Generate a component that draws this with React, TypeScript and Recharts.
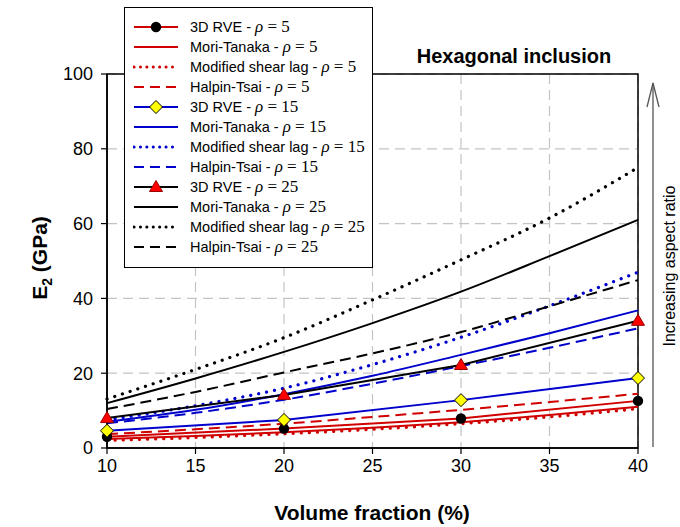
import React from "react";
import { LineChart, Line, XAxis, YAxis, CartesianGrid, ReferenceArea, Legend } from "recharts";

// volume fraction (%) where the analytical curves were sampled
const volumeFraction = [10, 15, 20, 25, 30, 35, 40];
// volume fraction (%) of the 3D RVE simulations
const rveFraction = [10, 20, 30, 40];

const xTicks = [10, 15, 20, 25, 30, 35, 40];
const yTicks = [0, 20, 40, 60, 80, 100];

// E2 (GPa), aspect ratio 5
const rve5 = [3.0, 5.2, 7.9, 12.6];
const moriTanaka5 = [2.4, 3.2, 4.2, 5.4, 6.9, 8.8, 11.0];
const shearLag5 = [2.0, 2.8, 3.8, 5.0, 6.5, 8.3, 10.5];
const halpinTsai5 = [3.7, 5.0, 6.5, 8.3, 10.2, 12.3, 14.5];

// aspect ratio 15
const rve15 = [4.6, 7.5, 12.8, 18.7];
const moriTanaka15 = [7.0, 10.2, 14.4, 19.3, 24.9, 30.7, 36.8];
const shearLag15 = [7.5, 11.3, 16.0, 22.3, 29.6, 38.0, 47.0];
const halpinTsai15 = [6.6, 9.4, 12.9, 17.2, 21.9, 26.8, 32.0];

// aspect ratio 25
const rve25 = [8.0, 14.2, 22.2, 34.0];
const moriTanaka25 = [12.0, 18.6, 25.7, 33.4, 41.8, 51.3, 61.0];
const shearLag25 = [13.1, 21.0, 29.5, 39.6, 50.3, 61.5, 75.0];
const halpinTsai25 = [10.4, 15.0, 20.2, 25.3, 31.0, 37.9, 44.9];

const RED = "#d00000";
const BLUE = "#0000cc";
const BLACK = "#000000";

const DOTTED = "0.1 8";
const DASHED = "11 6";

type Marker = "circle" | "diamond" | "triangle" | null;

interface Series {
  key: string;
  method: string;
  rho: number;
  xs: number[];
  ys: number[];
  color: string;
  dash?: string;
  marker: Marker;
}

const series: Series[] = [
  { key: "rve5", method: "3D RVE", rho: 5, xs: rveFraction, ys: rve5, color: RED, marker: "circle" },
  { key: "mt5", method: "Mori-Tanaka", rho: 5, xs: volumeFraction, ys: moriTanaka5, color: RED, marker: null },
  { key: "msl5", method: "Modified shear lag", rho: 5, xs: volumeFraction, ys: shearLag5, color: RED, dash: DOTTED, marker: null },
  { key: "ht5", method: "Halpin-Tsai", rho: 5, xs: volumeFraction, ys: halpinTsai5, color: RED, dash: DASHED, marker: null },
  { key: "rve15", method: "3D RVE", rho: 15, xs: rveFraction, ys: rve15, color: BLUE, marker: "diamond" },
  { key: "mt15", method: "Mori-Tanaka", rho: 15, xs: volumeFraction, ys: moriTanaka15, color: BLUE, marker: null },
  { key: "msl15", method: "Modified shear lag", rho: 15, xs: volumeFraction, ys: shearLag15, color: BLUE, dash: DOTTED, marker: null },
  { key: "ht15", method: "Halpin-Tsai", rho: 15, xs: volumeFraction, ys: halpinTsai15, color: BLUE, dash: DASHED, marker: null },
  { key: "rve25", method: "3D RVE", rho: 25, xs: rveFraction, ys: rve25, color: BLACK, marker: "triangle" },
  { key: "mt25", method: "Mori-Tanaka", rho: 25, xs: volumeFraction, ys: moriTanaka25, color: BLACK, marker: null },
  { key: "msl25", method: "Modified shear lag", rho: 25, xs: volumeFraction, ys: shearLag25, color: BLACK, dash: DOTTED, marker: null },
  { key: "ht25", method: "Halpin-Tsai", rho: 25, xs: volumeFraction, ys: halpinTsai25, color: BLACK, dash: DASHED, marker: null },
];

const SANS = "'Liberation Sans', Arial, sans-serif";
const SERIF = "'Liberation Serif', 'Times New Roman', serif";

function MarkerShape({ kind, cx, cy }: { kind: Marker; cx: number; cy: number }) {
  if (kind === "circle") return <circle cx={cx} cy={cy} r={5.2} fill="#000" />;
  if (kind === "diamond")
    return (
      <polygon
        points={`${cx},${cy - 6.5} ${cx + 6.5},${cy} ${cx},${cy + 6.5} ${cx - 6.5},${cy}`}
        fill="#ffff00"
        stroke="#000"
        strokeWidth={1}
      />
    );
  if (kind === "triangle")
    return (
      <polygon
        points={`${cx},${cy - 6.5} ${cx + 6.5},${cy + 4.5} ${cx - 6.5},${cy + 4.5}`}
        fill="#ff0000"
        stroke="#900"
        strokeWidth={1}
      />
    );
  return null;
}

const dotFor = (kind: Marker) => (p: any) => (
  <g key={`m-${p.index}`}>
    <MarkerShape kind={kind} cx={p.cx} cy={p.cy} />
  </g>
);

function LegendBox() {
  return (
    <div
      style={{
        width: 249,
        height: 261,
        boxSizing: "border-box",
        border: "1.5px solid #000",
        background: "#fff",
        paddingTop: 9,
        paddingLeft: 8,
      }}
    >
      {series.map((s) => (
        <div key={s.key} style={{ height: 20, display: "flex", alignItems: "center" }}>
          <svg width={46} height={20} style={{ display: "block" }}>
            <line
              x1={1}
              x2={45}
              y1={10}
              y2={10}
              stroke={s.color}
              strokeWidth={s.dash === DOTTED ? 3 : 2}
              strokeDasharray={s.dash === DOTTED ? "0.1 6.3" : s.dash === DASHED ? "10 6" : undefined}
              strokeLinecap={s.dash === DOTTED ? "round" : "butt"}
            />
            <MarkerShape kind={s.marker} cx={23} cy={10} />
          </svg>
          <span style={{ marginLeft: 11, fontFamily: SANS, fontSize: 14.5, color: "#000", whiteSpace: "nowrap" }}>
            {s.method} -{" "}
            <span style={{ fontFamily: SERIF, fontSize: 17 }}>
              <i>ρ</i> = {s.rho}
            </span>
          </span>
        </div>
      ))}
    </div>
  );
}

export default function App() {
  const analytic = series.filter((s) => s.marker === null);
  const rve = series.filter((s) => s.marker !== null);
  return (
    <div style={{ position: "absolute", left: 0, top: 0, width: 680, height: 527, background: "#fff" }}>
      <LineChart width={680} height={527} margin={{ top: 74, right: 42, bottom: 49, left: 0 }}>
        <CartesianGrid stroke="#c4c4c4" strokeDasharray="10 6" strokeWidth={1.2} />
        <XAxis
          type="number"
          dataKey="vf"
          domain={[10, 40]}
          ticks={xTicks}
          height={30}
          stroke="#000"
          tickLine={{ stroke: "#000", strokeWidth: 1.2 }}
          axisLine={{ stroke: "#000", strokeWidth: 1.5 }}
          tickSize={6}
          tickMargin={5}
          tick={{ fill: "#000", fontSize: 18, fontFamily: SANS }}
        />
        <YAxis
          type="number"
          dataKey="e2"
          domain={[0, 100]}
          ticks={yTicks}
          width={107}
          stroke="#000"
          tickLine={{ stroke: "#000", strokeWidth: 1.2 }}
          axisLine={{ stroke: "#000", strokeWidth: 1.5 }}
          tickSize={6}
          tickMargin={8}
          tick={{ fill: "#000", fontSize: 18, fontFamily: SANS }}
        />
        <ReferenceArea x1={10} x2={40} y1={0} y2={100} fill="none" stroke="#000" strokeWidth={1.5} ifOverflow="visible" />
        {analytic.map((s) => (
          <Line
            key={s.key}
            data={s.xs.map((x, i) => ({ vf: x, e2: s.ys[i] }))}
            dataKey="e2"
            type="monotone"
            stroke={s.color}
            strokeWidth={s.dash === DOTTED ? 3.2 : 2}
            strokeDasharray={s.dash}
            strokeLinecap={s.dash === DOTTED ? "round" : "butt"}
            dot={false}
            activeDot={false}
            isAnimationActive={false}
            legendType="none"
          />
        ))}
        {rve.map((s) => (
          <Line
            key={s.key}
            data={s.xs.map((x, i) => ({ vf: x, e2: s.ys[i] }))}
            dataKey="e2"
            type="linear"
            stroke={s.color}
            strokeWidth={2}
            dot={dotFor(s.marker)}
            activeDot={false}
            isAnimationActive={false}
            legendType="none"
          />
        ))}
        <Legend
          layout="vertical"
          align="center"
          verticalAlign="middle"
          content={() => <LegendBox />}
          wrapperStyle={{ left: 124, top: 7, width: 249, height: 261 }}
        />
      </LineChart>
      <svg
        width={680}
        height={527}
        style={{ position: "absolute", left: 0, top: 0, pointerEvents: "none" }}
      >
        <text x={514} y={63} textAnchor="middle" fontFamily={SANS} fontWeight="bold" fontSize={20} fill="#000">
          Hexagonal inclusion
        </text>
        <text x={372} y={520} textAnchor="middle" fontFamily={SANS} fontWeight="bold" fontSize={21} fill="#000">
          Volume fraction (%)
        </text>
        <text
          transform="translate(47,258) rotate(-90)"
          textAnchor="middle"
          fontFamily={SANS}
          fontWeight="bold"
          fontSize={21}
          fill="#000"
        >
          E<tspan fontSize={14} dy={5}>2</tspan>
          <tspan dy={-5}> (GPa)</tspan>
        </text>
        <line x1={653} y1={83} x2={653} y2={447} stroke="#555" strokeWidth={1.3} />
        <polyline points="647,107 653,83 659,107" fill="none" stroke="#555" strokeWidth={1.3} />
        <text
          transform="translate(675,266) rotate(-90)"
          textAnchor="middle"
          fontFamily={SANS}
          fontSize={16}
          fill="#000"
        >
          Increasing aspect ratio
        </text>
      </svg>
    </div>
  );
}
